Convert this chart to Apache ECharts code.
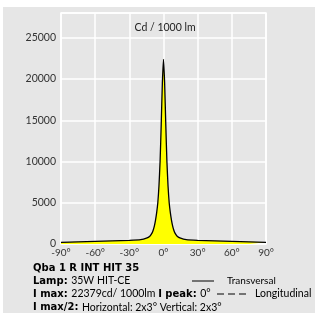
<!DOCTYPE html>
<html><head><meta charset="utf-8">
<script src="https://cdn.jsdelivr.net/npm/echarts@6/dist/echarts.min.js"></script>
<style>html,body{margin:0;padding:0;background:#fff}#c{width:315px;height:313px}</style>
</head><body><div id="c"></div>
<script>
const angles = [-90,-75,-60,-45,-30,-20,-15,-12,-10,-9,-8,-7,-6,-5,-4,-3,-2,-1,0,1,2,3,4,5,6,7,8,9,10,12,15,20,30,45,60,75,90];
const transversal = [200,260,320,380,440,520,700,950,1350,1700,2200,2900,3800,5000,7000,10000,14500,19500,22379,19500,14500,10000,7000,5000,3800,2900,2200,1700,1350,950,700,520,440,380,320,260,200];
const xTicks = [-90,-60,-30,0,30,60,90];
const yTicks = [0,5000,10000,15000,20000,25000];
const unitLabel = 'Cd / 1000 lm';
const title = 'Qba 1 R INT HIT 35';
const infoLines = [
  [['Lamp: ', true], ['35W HIT-CE', false]],
  [['I max: ', true], ['22379cd/ 1000lm ', false], ['I peak: ', true], ['0°', false]],
  [['I max/2: ', true], ['Horizontal: 2x3° Vertical: 2x3°', false]]
];
const legendNames = ['Transversal', 'Longitudinal'];

const FONT = 'Lato';
const BOLD = 'DejaVu Sans';
const chart = echarts.init(document.getElementById('c'), null, {renderer: 'canvas'});
const data = angles.map((a, i) => [a, transversal[i]]);

function richLine(parts) {
  return parts.map(p => '{' + (p[1] ? 'b' : 'n') + '|' + p[0] + '}').join('');
}
const rich = {
  b: {fontFamily: BOLD, fontWeight: 'bold', fontSize: 10, color: '#000'},
  n: {fontFamily: FONT, fontSize: 10.5, color: '#000'}
};

chart.setOption({
  backgroundColor: '#ffffff',
  animation: false,
  grid: {left: 61, right: 49, top: 13, bottom: 69, show: true, backgroundColor: '#e6e6e6', borderColor: '#ffffff', borderWidth: 1.5},
  xAxis: {
    type: 'value', min: -90, max: 90, interval: 30,
    axisLine: {show: false}, axisTick: {show: false},
    splitLine: {show: true, lineStyle: {color: '#ffffff', width: 1.5}},
    axisLabel: {fontFamily: FONT, fontSize: 10, color: '#333', margin: 4,
      formatter: v => xTicks.includes(v) ? v + '°' : ''}
  },
  yAxis: {
    type: 'value', min: 0, max: 28000, interval: 5000,
    axisLine: {show: false}, axisTick: {show: false},
    splitLine: {show: true, lineStyle: {color: '#ffffff', width: 1.5}},
    axisLabel: {fontFamily: FONT, fontSize: 10.5, color: '#333', margin: 5,
      formatter: v => yTicks.includes(v) ? String(v) : ''}
  },
  series: [{
    name: legendNames[0], type: 'line', data: data, showSymbol: false, smooth: 0.2,
    lineStyle: {color: '#000', width: 1.3},
    areaStyle: {color: '#ffff00', opacity: 1},
    z: 3
  }],
  graphic: [
    {type: 'rect', shape: {x: 3, y: 7, width: 312, height: 306}, style: {fill: '#e6e6e6'}, z: -10, silent: true},
    {type: 'text', x: 165, y: 28, style: {text: unitLabel, fontFamily: FONT, fontSize: 10.5, fill: '#222', align: 'center', verticalAlign: 'middle'}, z: 10},
    {type: 'text', x: 33, y: 268, style: {text: title, fontFamily: BOLD, fontWeight: 'bold', fontSize: 10, fill: '#000', verticalAlign: 'middle'}, z: 10},
    {type: 'text', x: 33, y: 281, style: {text: richLine(infoLines[0]), rich: rich, verticalAlign: 'middle'}, z: 10},
    {type: 'text', x: 33, y: 294, style: {text: richLine(infoLines[1]), rich: rich, verticalAlign: 'middle'}, z: 10},
    {type: 'text', x: 33, y: 307.5, style: {text: richLine(infoLines[2]), rich: rich, verticalAlign: 'middle'}, z: 10},
    {type: 'line', shape: {x1: 192, y1: 281, x2: 214, y2: 281}, style: {stroke: '#000', lineWidth: 1}, z: 10},
    {type: 'text', x: 227, y: 281, style: {text: legendNames[0], fontFamily: FONT, fontSize: 10, fill: '#000', verticalAlign: 'middle'}, z: 10},
    {type: 'line', shape: {x1: 217, y1: 294, x2: 248, y2: 294}, style: {stroke: '#000', lineWidth: 1, lineDash: [7, 4]}, z: 10},
    {type: 'text', x: 255, y: 294, style: {text: legendNames[1], fontFamily: FONT, fontSize: 10.5, fill: '#000', verticalAlign: 'middle'}, z: 10}
  ]
});
</script></body></html>
